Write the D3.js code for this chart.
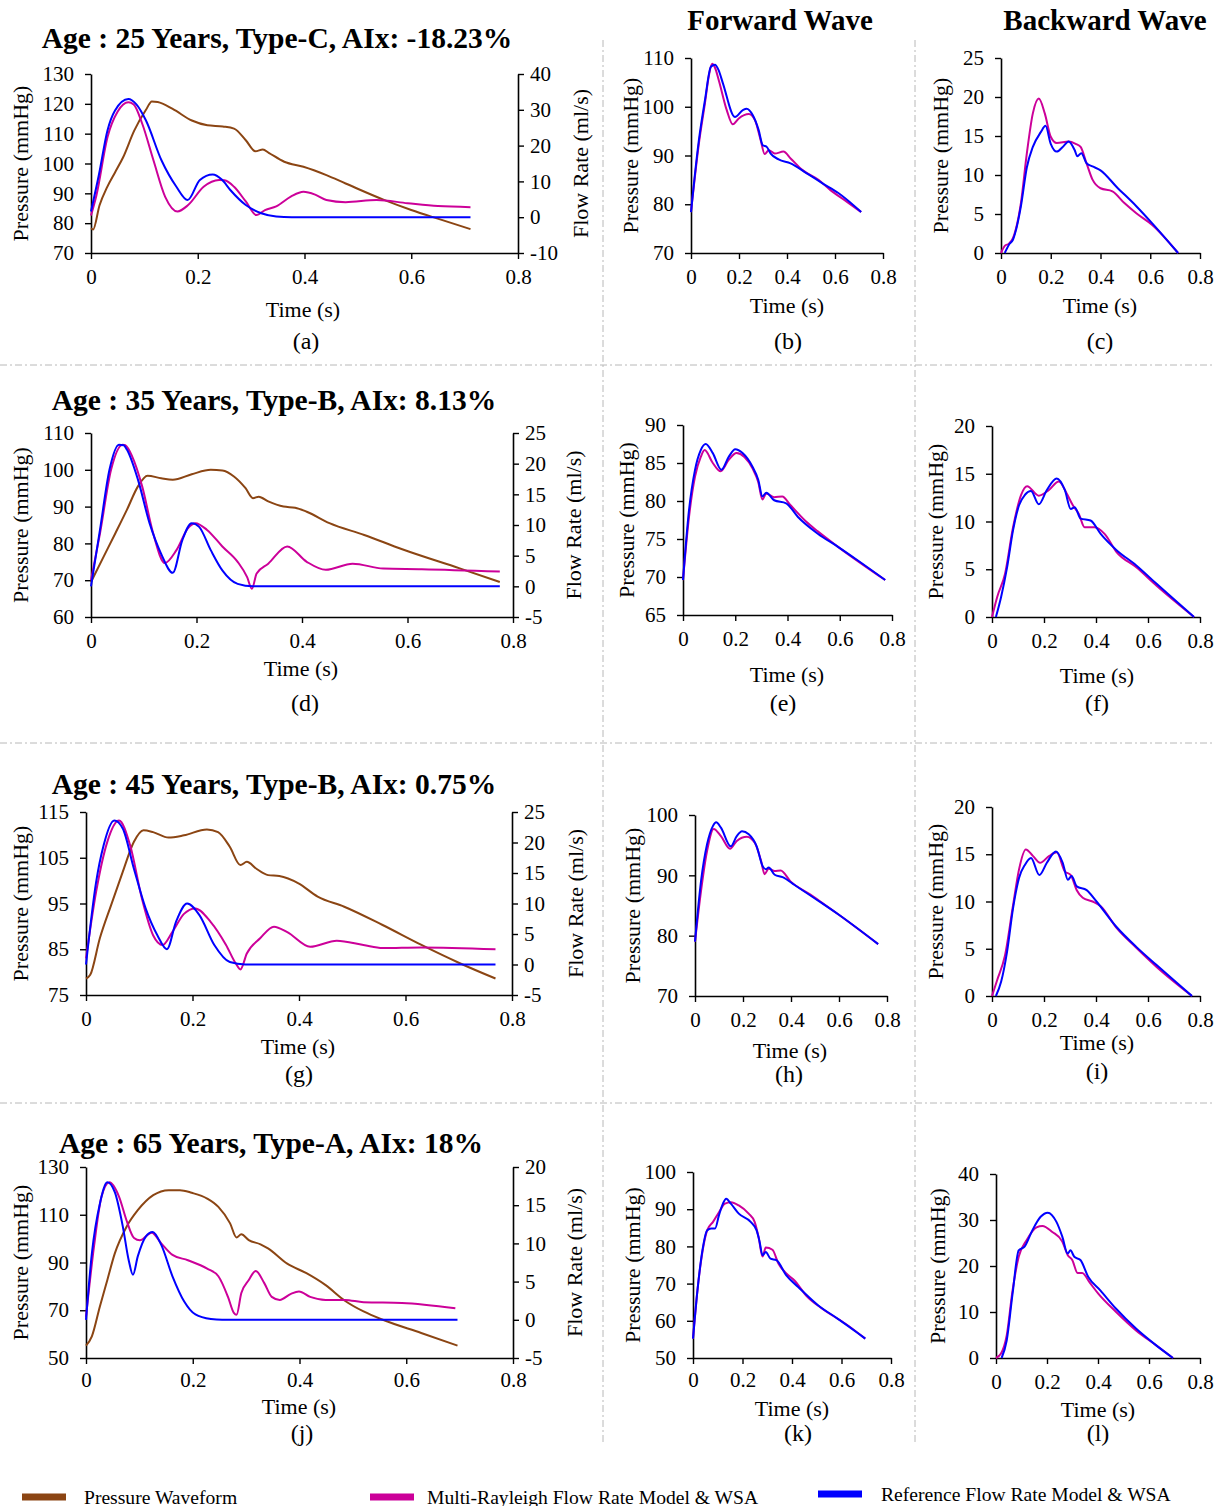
<!DOCTYPE html>
<html><head><meta charset="utf-8">
<script src="https://cdn.jsdelivr.net/npm/d3@7"></script>
<style>
body{margin:0;background:#fff}
text{font-family:"Liberation Serif","Times New Roman",serif;fill:#000}
</style>
</head><body>
<svg id="chart" width="1223" height="1506"></svg>
<script>
// ---------------- DATA ----------------
const timeTicks = [0, 0.2, 0.4, 0.6, 0.8];
const rowTitles = ["Age : 25 Years, Type-C, AIx: -18.23%", "Age : 35 Years, Type-B, AIx: 8.13%",
                   "Age : 45 Years, Type-B, AIx: 0.75%", "Age : 65 Years, Type-A, AIx: 18%"];
const columnTitles = ["Forward Wave", "Backward Wave"];
const panelLetters = ["(a)","(b)","(c)","(d)","(e)","(f)","(g)","(h)","(i)","(j)","(k)","(l)"];
const legendLabels = ["Pressure Waveform", "Multi-Rayleigh Flow Rate Model & WSA", "Reference Flow Rate Model & WSA"];

// tick values
const aLeftTicks = [70,80,90,100,110,120,130], aRightTicks = [-10,0,10,20,30,40];
const bTicks = [70,80,90,100,110], cTicks = [0,5,10,15,20,25];
const dLeftTicks = [60,70,80,90,100,110], dRightTicks = [-5,0,5,10,15,20,25];
const eTicks = [65,70,75,80,85,90], fTicks = [0,5,10,15,20];
const gLeftTicks = [75,85,95,105,115], gRightTicks = [-5,0,5,10,15,20,25];
const hTicks = [70,80,90,100], iTicks = [0,5,10,15,20];
const jLeftTicks = [50,70,90,110,130], jRightTicks = [-5,0,5,10,15,20];
const kTicks = [50,60,70,80,90,100], lTicks = [0,10,20,30,40];

// (a) 25 years
const aPressure = [[0,78.3],[0.004,77.9],[0.016,86],[0.03,92],[0.045,97],[0.06,102],[0.081,111],[0.103,118],[0.114,120.8],[0.125,120.6],[0.153,118.3],[0.189,114.4],[0.218,112.8],[0.247,112.4],[0.268,111.7],[0.29,107.8],[0.308,104.1],[0.322,104.7],[0.333,103.6],[0.362,100.6],[0.398,98.9],[0.441,96.1],[0.477,93.3],[0.549,87.8],[0.6,84.4],[0.657,81.1],[0.711,78]];
const aMulti = [[0,0.5],[0.01,6],[0.031,22.4],[0.05,29.5],[0.07,32.1],[0.08,31.5],[0.096,26.1],[0.117,15.9],[0.139,5.7],[0.162,1.6],[0.182,3.4],[0.211,8.5],[0.24,10.4],[0.25,10.3],[0.268,8.5],[0.29,4.4],[0.31,0.6],[0.326,2],[0.347,3],[0.375,5.8],[0.398,7.1],[0.42,6.3],[0.441,4.8],[0.477,4.2],[0.535,4.8],[0.593,3.9],[0.65,3.1],[0.711,2.8]];
const aRef = [[0,1.6],[0.015,12],[0.031,24.3],[0.045,29.8],[0.07,33],[0.085,31.5],[0.103,27],[0.132,15.9],[0.16,8.5],[0.181,4.8],[0.204,10.4],[0.228,11.9],[0.245,10.5],[0.261,7.6],[0.29,3.4],[0.319,1.1],[0.347,0.2],[0.376,0],[0.711,0]];
const bMulti = [[0,78.4],[0.033,92.5],[0.058,100.7],[0.075,106.5],[0.088,108.8],[0.1,108],[0.116,105.4],[0.149,99.3],[0.174,96.4],[0.199,97.6],[0.241,98.5],[0.266,97.3],[0.29,93.2],[0.307,90.3],[0.324,91.1],[0.349,90.4],[0.385,90.8],[0.415,89.4],[0.465,87],[0.531,85],[0.581,82.9],[0.65,80.5],[0.709,78.4]];
const bRef = [[0,78.4],[0.033,93.2],[0.058,101.3],[0.083,108.2],[0.1,108.6],[0.115,107.5],[0.133,104.8],[0.183,97.9],[0.216,99.3],[0.232,99.6],[0.257,98.3],[0.282,95.2],[0.299,92.1],[0.315,91.8],[0.332,90.4],[0.365,89.2],[0.415,88.4],[0.481,86.4],[0.548,84.3],[0.614,82.3],[0.709,78.4]];
const cMulti = [[0,0],[0.016,0.94],[0.032,1.2],[0.048,1.9],[0.08,6.4],[0.104,12.8],[0.128,17.9],[0.152,19.8],[0.176,17.9],[0.2,14.9],[0.224,14.1],[0.272,14.3],[0.3,14],[0.32,13.6],[0.344,11.5],[0.368,9.4],[0.4,8.3],[0.448,7.9],[0.496,6.4],[0.544,5.1],[0.608,3.6],[0.712,0]];
const cRef = [[0.015,0],[0.032,1.06],[0.048,1.7],[0.08,6],[0.104,11],[0.128,13.6],[0.16,15.5],[0.179,16.3],[0.2,14],[0.224,13],[0.248,13.6],[0.272,14.3],[0.296,13.2],[0.307,12.4],[0.323,12.8],[0.344,11.5],[0.368,11.1],[0.4,10.6],[0.464,8.5],[0.544,6],[0.608,3.8],[0.712,0]];

// (d) 35 years
const dPressure = [[0,69.5],[0.024,76.4],[0.046,82.7],[0.068,89.1],[0.089,95.5],[0.107,98.4],[0.133,97.7],[0.155,97.3],[0.191,98.8],[0.227,100],[0.249,99.8],[0.271,98.2],[0.293,95],[0.307,92.3],[0.318,92.7],[0.336,91.4],[0.365,90],[0.387,89.7],[0.409,88.6],[0.452,85.5],[0.518,82.3],[0.59,78.4],[0.699,73.2],[0.775,69.5]];
const dMulti = [[0,1],[0.017,8.6],[0.038,19],[0.06,23.1],[0.065,23],[0.078,21.2],[0.097,16.3],[0.118,8.6],[0.14,3.8],[0.162,5.9],[0.184,9.5],[0.198,10.3],[0.22,9.2],[0.249,6.5],[0.278,4],[0.296,1.5],[0.305,-0.4],[0.314,2.1],[0.336,3.7],[0.372,6.5],[0.409,4],[0.445,2.7],[0.496,3.7],[0.554,2.9],[0.627,2.8],[0.775,2.4]];
const dRef = [[0,0],[0.017,9.2],[0.035,19],[0.053,23.1],[0.062,23],[0.068,22.3],[0.089,17.4],[0.111,10.3],[0.133,5.3],[0.155,2.2],[0.173,7.5],[0.191,10.3],[0.205,9.7],[0.227,5.9],[0.249,2.6],[0.278,0.4],[0.307,0],[0.775,0]];
const eMulti = [[0,69.6],[0.023,77.9],[0.046,83.2],[0.068,85.8],[0.083,86.7],[0.114,85],[0.144,83.9],[0.175,85.4],[0.205,86.3],[0.235,85.8],[0.266,84.3],[0.288,82.5],[0.304,80.2],[0.319,81],[0.349,80.5],[0.38,80.6],[0.41,79.5],[0.471,77.3],[0.516,76],[0.592,74],[0.774,69.6]];
const eRef = [[0,69.6],[0.023,78.8],[0.046,84.1],[0.068,86.7],[0.087,87.5],[0.114,86.3],[0.147,84.1],[0.175,85.8],[0.2,86.8],[0.228,86.3],[0.266,84.5],[0.288,82.8],[0.304,80.6],[0.319,81.1],[0.349,80.1],[0.395,79.7],[0.44,77.9],[0.516,75.7],[0.592,74],[0.668,72.2],[0.774,69.6]];
const fMulti = [[0,0],[0.02,2.1],[0.05,4.5],[0.081,9.4],[0.112,12.8],[0.135,13.7],[0.18,12.7],[0.219,13.3],[0.257,14.2],[0.288,12.9],[0.311,11.7],[0.334,10.8],[0.356,9.4],[0.395,9.4],[0.433,8.7],[0.479,6.8],[0.555,5.2],[0.632,3.3],[0.777,0]];
const fRef = [[0.015,0],[0.035,2.1],[0.058,5.2],[0.081,9.1],[0.104,11.7],[0.127,12.8],[0.15,13.2],[0.18,11.8],[0.211,13.3],[0.249,14.5],[0.28,13.3],[0.303,11.3],[0.318,11.5],[0.341,10.3],[0.379,10.1],[0.418,8.7],[0.479,7],[0.555,5.4],[0.632,3.5],[0.777,0]];

// (g) 45 years
const gPressure = [[0,78.6],[0.008,79.4],[0.026,87.4],[0.047,94.6],[0.069,101.9],[0.09,108.5],[0.108,111],[0.126,110.6],[0.155,109.4],[0.184,109.9],[0.227,111.2],[0.248,110.6],[0.27,107.4],[0.29,103.4],[0.302,104.1],[0.32,102.6],[0.342,101.2],[0.363,101],[0.399,99.4],[0.435,96.5],[0.485,94.3],[0.557,90.3],[0.629,86],[0.701,82],[0.769,78.6]];
const gMulti = [[0,1],[0.019,11.9],[0.04,20.1],[0.062,23.6],[0.083,19.5],[0.105,10.8],[0.126,4.8],[0.144,3.2],[0.162,5.3],[0.184,8.3],[0.205,9.2],[0.234,7],[0.263,3.2],[0.281,0.2],[0.29,-0.8],[0.302,1.8],[0.327,4.3],[0.353,6.2],[0.378,5.3],[0.421,2.9],[0.471,3.9],[0.521,3.2],[0.557,2.7],[0.629,2.8],[0.769,2.5]];
const gRef = [[0,0],[0.019,13.5],[0.033,19.5],[0.053,23.6],[0.069,22.3],[0.09,15.7],[0.112,9.2],[0.134,4.8],[0.152,2.5],[0.169,7],[0.19,10],[0.213,8.1],[0.241,3.2],[0.27,0.4],[0.299,0],[0.769,0]];
const hMulti = [[0,79],[0.025,87.4],[0.05,94],[0.078,97.7],[0.108,96.5],[0.146,94.4],[0.174,95.7],[0.216,96.4],[0.249,95.4],[0.274,92.6],[0.29,90.2],[0.307,91.1],[0.332,90.7],[0.357,90.8],[0.398,89],[0.481,86.8],[0.531,85.4],[0.598,83.5],[0.763,78.6]];
const hRef = [[0,79],[0.025,89],[0.05,95.1],[0.075,98.2],[0.088,98.8],[0.108,97.9],[0.149,94.8],[0.174,96.5],[0.196,97.3],[0.224,96.8],[0.257,94.8],[0.282,91.5],[0.295,91],[0.307,91.3],[0.332,90.1],[0.365,89.7],[0.415,88.4],[0.498,86.2],[0.598,83.5],[0.763,78.6]];
const iMulti = [[0,0],[0.02,1.7],[0.05,4.3],[0.081,9.6],[0.104,13.4],[0.13,15.5],[0.158,14.8],[0.185,14.1],[0.219,14.8],[0.249,15.2],[0.28,13.2],[0.303,12.8],[0.326,11.2],[0.349,10.4],[0.387,10],[0.418,9.5],[0.479,7.2],[0.555,5.1],[0.632,3.1],[0.769,0]];
const iRef = [[0.015,0],[0.035,1.5],[0.058,4.7],[0.081,9.3],[0.104,12.5],[0.127,13.9],[0.15,14.6],[0.182,12.8],[0.211,14.1],[0.246,15.3],[0.272,14.1],[0.292,12.3],[0.306,12.7],[0.326,11.6],[0.364,11.2],[0.402,10],[0.479,7.3],[0.555,5.2],[0.632,3.3],[0.769,0]];

// (j) 65 years
const jPressure = [[0,55.2],[0.011,59.1],[0.026,71.6],[0.04,82.7],[0.054,93.8],[0.076,105],[0.097,111.9],[0.126,118.2],[0.155,120.3],[0.176,120.3],[0.198,119.2],[0.227,116.8],[0.248,113.3],[0.27,106.4],[0.282,100.5],[0.291,101.8],[0.305,99.4],[0.327,97.6],[0.341,95.9],[0.377,89.5],[0.413,85.5],[0.449,80.5],[0.485,74],[0.52,69.5],[0.556,66],[0.628,60.5],[0.696,55.2]];
const jMulti = [[0,0.4],[0.015,9.6],[0.029,16.1],[0.044,18],[0.062,16.1],[0.076,13],[0.09,10.7],[0.101,10.4],[0.123,11.4],[0.141,10],[0.162,8.5],[0.191,7.8],[0.227,6.7],[0.248,5.7],[0.266,3],[0.277,0.9],[0.282,0.65],[0.291,3.5],[0.305,5.2],[0.318,6.4],[0.334,4.8],[0.348,3],[0.363,2.6],[0.384,3.4],[0.399,3.7],[0.42,3],[0.449,2.6],[0.485,2.6],[0.52,2.3],[0.592,2.2],[0.692,1.5]];
const jRef = [[0,0],[0.011,8.7],[0.026,15.2],[0.04,18],[0.054,16.7],[0.069,12.2],[0.08,7.8],[0.088,5.9],[0.097,8.3],[0.112,10.9],[0.125,11.5],[0.141,9.8],[0.162,5.7],[0.184,2.4],[0.205,0.7],[0.234,0.1],[0.255,0],[0.696,0]];
const kMulti = [[0,55.2],[0.018,68.2],[0.038,78.5],[0.057,84.3],[0.081,86.6],[0.105,89.2],[0.129,91.5],[0.153,91.9],[0.185,91],[0.225,88.8],[0.249,86.6],[0.265,82.5],[0.281,77.3],[0.294,79.7],[0.321,79.1],[0.345,75.4],[0.377,72.7],[0.409,70.9],[0.457,66.8],[0.521,63.3],[0.616,59.2],[0.696,55.2]];
const kRef = [[0,55.2],[0.018,68.2],[0.038,78.9],[0.057,84.3],[0.073,84.8],[0.089,84.8],[0.105,88.4],[0.121,91.5],[0.134,92.8],[0.153,91.5],[0.185,88.8],[0.233,86.6],[0.257,84.3],[0.268,81.6],[0.281,77.6],[0.294,78.5],[0.313,76.7],[0.337,76.3],[0.377,72.2],[0.425,69.1],[0.505,64.2],[0.584,60.6],[0.664,56.8],[0.696,55.2]];
const lMulti = [[0,0],[0.019,0.9],[0.042,4.9],[0.065,14.7],[0.089,22],[0.12,25.6],[0.159,28.4],[0.182,28.7],[0.221,27.4],[0.26,25.3],[0.281,22.4],[0.299,21.3],[0.32,18.5],[0.338,18.5],[0.37,16.2],[0.401,14],[0.471,10],[0.549,6],[0.627,2.8],[0.694,0]];
const lRef = [[0.022,0],[0.042,3.8],[0.065,14],[0.089,23.4],[0.112,24.2],[0.143,27.8],[0.175,30.7],[0.203,31.6],[0.237,29.6],[0.26,26.4],[0.281,22.7],[0.292,23.4],[0.307,22],[0.331,21.3],[0.362,17.6],[0.409,14.7],[0.471,10.7],[0.549,6.4],[0.627,2.8],[0.694,0]];

// ---------------- LAYOUT ----------------
const COLORS = {pressure:"#8B4513", multi:"#CC0099", ref:"#0000FF"};
const svg = d3.select("#chart");

const flowPanels = [
  {L:0, title:rowTitles[0], x0:91, x1:518, y0:74, y1:253, lt:aLeftTicks, rt:aRightTicks, p:aPressure, m:aMulti, r:aRef, tx:277, ty:38, ylx:20, yrx:580, timeX:303, timeY:309, letX:306, letY:341},
  {L:3, title:rowTitles[1], x0:91, x1:513, y0:433, y1:617, lt:dLeftTicks, rt:dRightTicks, p:dPressure, m:dMulti, r:dRef, tx:274, ty:400, ylx:20, yrx:573, timeX:301, timeY:668, letX:305, letY:703},
  {L:6, title:rowTitles[2], x0:86, x1:512, y0:812, y1:995, lt:gLeftTicks, rt:gRightTicks, p:gPressure, m:gMulti, r:gRef, tx:274, ty:784, ylx:20, yrx:575, timeX:298, timeY:1046, letX:299, letY:1074},
  {L:9, title:rowTitles[3], x0:86, x1:513, y0:1167, y1:1358, lt:jLeftTicks, rt:jRightTicks, p:jPressure, m:jMulti, r:jRef, tx:271, ty:1143, ylx:20, yrx:574, timeX:299, timeY:1406, letX:302, letY:1433}
];
const wavePanels = [
  {L:1, x0:691, x1:883, y0:58, y1:253, t:bTicks, m:bMulti, r:bRef, ylx:630, timeX:787, timeY:305, letX:788, letY:341},
  {L:2, x0:1001, x1:1200, y0:58, y1:253, t:cTicks, m:cMulti, r:cRef, ylx:940, timeX:1100, timeY:305, letX:1100, letY:341},
  {L:4, x0:683, x1:892, y0:425, y1:615, t:eTicks, m:eMulti, r:eRef, ylx:626, timeX:787, timeY:674, letX:783, letY:703},
  {L:5, x0:992, x1:1200, y0:426, y1:617, t:fTicks, m:fMulti, r:fRef, ylx:935, timeX:1097, timeY:675, letX:1097, letY:703},
  {L:7, x0:695, x1:887, y0:815, y1:996, t:hTicks, m:hMulti, r:hRef, ylx:632, timeX:790, timeY:1050, letX:789, letY:1074},
  {L:8, x0:992, x1:1200, y0:807, y1:996, t:iTicks, m:iMulti, r:iRef, ylx:935, timeX:1097, timeY:1042, letX:1097, letY:1071},
  {L:10, x0:693, x1:891, y0:1172, y1:1358, t:kTicks, m:kMulti, r:kRef, ylx:632, timeX:792, timeY:1408, letX:798, letY:1433},
  {L:11, x0:996, x1:1200, y0:1174, y1:1358, t:lTicks, m:lMulti, r:lRef, ylx:937, timeX:1098, timeY:1409, letX:1098, letY:1433}
];

// separators
const sep = svg.append("g").attr("stroke","#b8b8b8").attr("stroke-width",1).attr("stroke-dasharray","7,3,2,3").attr("fill","none");
[603, 915].forEach(x => sep.append("line").attr("x1",x).attr("x2",x).attr("y1",40).attr("y2",1445));
[365, 743, 1103].forEach(y => sep.append("line").attr("x1",0).attr("x2",1212).attr("y1",y).attr("y2",y));

function styleAxis(g){
  g.selectAll(".domain").attr("stroke","#000").attr("stroke-width",1.6);
  g.selectAll(".tick line").attr("stroke","#000").attr("stroke-width",1.4);
  g.selectAll(".tick text").attr("font-size",21).attr("font-family",'"Liberation Serif",serif').attr("fill","#000");
}
const fmt = d => String(d);

function xAxisAndLabels(p, x, pad){
  const gx = svg.append("g").attr("transform",`translate(0,${p.y1})`)
    .call(d3.axisBottom(x).tickValues(timeTicks).tickFormat(fmt).tickSize(6).tickSizeOuter(0).tickPadding(pad));
  styleAxis(gx);
  svg.append("text").attr("x",p.timeX).attr("y",p.timeY).attr("text-anchor","middle")
    .attr("dominant-baseline","central").attr("font-size",22).text("Time (s)");
  svg.append("text").attr("x",p.letX).attr("y",p.letY).attr("text-anchor","middle")
    .attr("dominant-baseline","central").attr("font-size",24).text(panelLetters[p.L]);
}
function vLabel(x, y, txt){
  svg.append("text").attr("transform",`translate(${x},${y}) rotate(-90)`).attr("text-anchor","middle")
    .attr("dominant-baseline","central").attr("font-size",22).text(txt);
}
function drawLine(data, x, y, color){
  const line = d3.line().x(d => x(d[0])).y(d => y(d[1])).curve(d3.curveMonotoneX);
  svg.append("path").datum(data).attr("d",line).attr("fill","none").attr("stroke",color)
    .attr("stroke-width",2).attr("stroke-linejoin","round");
}

flowPanels.forEach(p => {
  const x = d3.scaleLinear().domain([0,0.8]).range([p.x0,p.x1]);
  const yL = d3.scaleLinear().domain(d3.extent(p.lt)).range([p.y1,p.y0]);
  const yR = d3.scaleLinear().domain(d3.extent(p.rt)).range([p.y1,p.y0]);
  const gl = svg.append("g").attr("transform",`translate(${p.x0},0)`)
    .call(d3.axisLeft(yL).tickValues(p.lt).tickFormat(fmt).tickSize(6).tickSizeOuter(0).tickPadding(11));
  styleAxis(gl);
  const gr = svg.append("g").attr("transform",`translate(${p.x1},0)`)
    .call(d3.axisRight(yR).tickValues(p.rt).tickFormat(fmt).tickSize(6).tickSizeOuter(0).tickPadding(6));
  styleAxis(gr);
  xAxisAndLabels(p, x, p.L === 9 ? 8 : 10);
  drawLine(p.p, x, yL, COLORS.pressure);
  drawLine(p.m, x, yR, COLORS.multi);
  drawLine(p.r, x, yR, COLORS.ref);
  svg.append("text").attr("x",p.tx).attr("y",p.ty).attr("text-anchor","middle").attr("dominant-baseline","central")
    .attr("font-size",29.5).attr("font-weight","bold").text(p.title);
  vLabel(p.ylx, (p.y0+p.y1)/2, "Pressure (mmHg)");
  vLabel(p.yrx, (p.y0+p.y1)/2, "Flow Rate (ml/s)");
});

wavePanels.forEach(p => {
  const x = d3.scaleLinear().domain([0,0.8]).range([p.x0,p.x1]);
  const y = d3.scaleLinear().domain(d3.extent(p.t)).range([p.y1,p.y0]);
  const gl = svg.append("g").attr("transform",`translate(${p.x0},0)`)
    .call(d3.axisLeft(y).tickValues(p.t).tickFormat(fmt).tickSize(6).tickSizeOuter(0).tickPadding(11));
  styleAxis(gl);
  xAxisAndLabels(p, x, p.L === 10 ? 8 : 10);
  drawLine(p.m, x, y, COLORS.multi);
  drawLine(p.r, x, y, COLORS.ref);
  vLabel(p.ylx, (p.y0+p.y1)/2, "Pressure (mmHg)");
});

// column titles
svg.append("text").attr("x",780).attr("y",20).attr("text-anchor","middle").attr("dominant-baseline","central")
  .attr("font-size",29).attr("font-weight","bold").text(columnTitles[0]);
svg.append("text").attr("x",1105).attr("y",20).attr("text-anchor","middle").attr("dominant-baseline","central")
  .attr("font-size",29).attr("font-weight","bold").text(columnTitles[1]);

// legend
const legendColors = [COLORS.pressure, COLORS.multi, COLORS.ref];
const legendSwatchX = [22, 370, 818];
const legendTextX = [84, 427, 881];
const legendY = [1497, 1497, 1494];
legendLabels.forEach((lab,i) => {
  svg.append("line").attr("x1",legendSwatchX[i]).attr("x2",legendSwatchX[i]+44)
    .attr("y1",legendY[i]).attr("y2",legendY[i]).attr("stroke",legendColors[i]).attr("stroke-width",7);
  svg.append("text").attr("x",legendTextX[i]).attr("y",legendY[i]).attr("dominant-baseline","central")
    .attr("font-size",19.6).text(lab);
});
</script>
</body></html>
